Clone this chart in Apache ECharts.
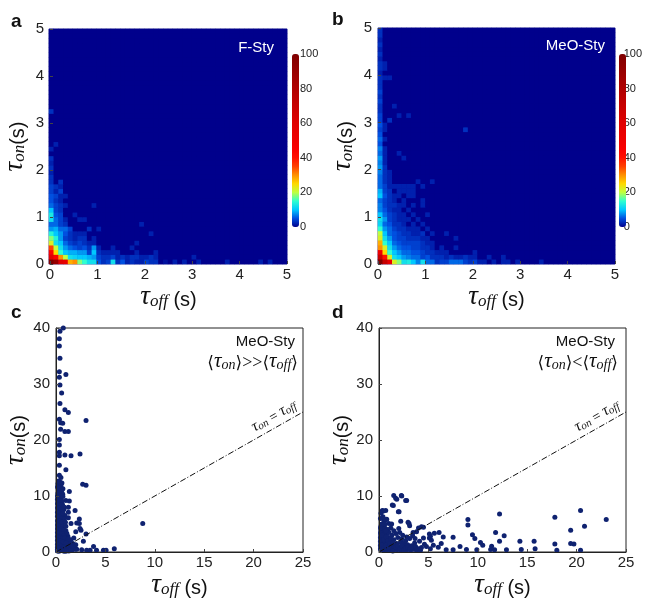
<!DOCTYPE html>
<html><head><meta charset="utf-8">
<script src="https://cdn.jsdelivr.net/npm/echarts@6/dist/echarts.min.js"></script>
<style>html,body{margin:0;padding:0;background:#fff}#c{width:645px;height:599px}</style>
</head><body><div id="c"></div>
<script>
// ---- Heatmap counts (rows = tau_on bins of 0.1 s from bottom, cols = tau_off bins of 0.1 s) ----
const heatA = [
 [100,90,60,55,28,30,18,15,12,12,5,3,4,12,3,5,2,3,2,2,4,3,3,0,1,0,2,0,2,0,0,2,0,0,0,0,0,2,0,0,0,0,0,0,2,0,2],
 [60,45,30,20,12,11,10,10,9,8,4,3,3,4,2,3,2,3,3,2,2,3,2,0,0,0,0,0,0,0,2],
 [45,25,15,10,9,9,8,8,4,10,3,2,2,2,2,0,0,0,2,0,0,0,2],
 [35,20,12,8,6,5,4,5,3,8,2,0,0,2,0,0,0,2],
 [22,12,10,6,4,3,4,3,2,2,0,0,0,0,0,0,0,0,2],
 [18,14,8,4,3,2,3,3,0,2],
 [14,10,8,5,3,2,2,2,0,0,0,0,0,0,0,0,0,0,0,0,0,2],
 [8,9,6,6,4,0,0,0,3,0,2],
 [6,6,4,3,0,0,0,0,0,0,0,0,0,0,0,0,0,0,0,2],
 [12,6,4,2,0,0,2,2],
 [13,5,4,0,0,2],
 [10,4,3,0,0,0,0,0,0,0],
 [6,4,3,2,0,0,0,0,0,2],
 [5,3,2],
 [5,4,2,2],
 [4,2,4],
 [4,3,2],
 [3,0,3],
 [3],
 [2],
 [3],
 [2],
 [3],
 [0],
 [2],
 [0,2],
 [],[],[],[],[],[],
 [3]
];
const heatB = [
 [100,70,55,22,18,12,13,10,7,12,6,6,3,4,4,6,6,6,4,3,4,2,2,0,2,0,2,2,0,2,0,0,0,0,2],
 [70,40,22,12,10,8,7,6,6,4,5,3,3,3,2,3,2,2,3,2,2,0,0,2,0,0,2],
 [50,25,15,10,8,6,6,5,5,4,3,3,2,2,2,0,0,0,0,0,2],
 [30,22,12,8,6,5,5,4,4,3,3,2,0,2,0,0,2],
 [28,15,10,6,5,4,4,4,4,3,2,2],
 [22,12,8,5,4,4,3,3,3,2,2,0,0,0,0,0,2],
 [20,10,6,5,4,3,3,2,2,3,0,2,0,0,2],
 [15,8,6,4,3,3,2,2,2,0,2],
 [11,6,5,3,3,2,0,2,0,2],
 [12,8,4,3,2,2,2,0,2],
 [10,6,4,3,2,2,0,2,0,0,2],
 [7,5,3,2,2,0,2],
 [7,4,3,3,2,2,0,2,0,2],
 [6,4,3,2,0,2,0,0,0,2],
 [10,5,3,2,2,0,2,2],
 [9,4,3,0,2,2,2,2],
 [6,4,2,2,2,2,2,2,0,2],
 [6,3,2,0,0,0,0,0,2,0,0,2],
 [6,3,2],
 [7,3,2],
 [8,3],
 [7,2],
 [8,2,0,0,0,2],
 [6,2,0,0,2],
 [7,2],
 [5],
 [6,2],
 [5],
 [4,2,0,0,0,0,0,0,0,0,0,0,0,0,0,0,0,0,3],
 [5,2],
 [4,0,3],
 [4,0,0,0,2,0,2],
 [3],
 [3,0,0,2],
 [4],
 [3],
 [4],
 [3],
 [3],
 [3,2,2],
 [2],
 [3,2],
 [3,2],
 [2],
 [3],
 [2],
 [3],
 [2],
 [3],
 [3]
];
// ---- Scatter points [tau_off, tau_on] ----
const scatC = [
 [0.74,40],[0.4,39.4],[0.34,38.1],[0.34,36.8],[0.4,34.6],[0.34,32.2],[0.34,31.2],[0.4,29.8],[1.0,31.7],[0.57,28.4],
 [0.4,26.5],[0.9,25.4],[1.25,24.9],[3.04,23.5],[0.34,23.7],[0.47,23.1],[0.68,23.0],[0.47,21.9],[0.9,21.5],[1.25,21.5],
 [0.34,20.1],[0.34,19.1],[0.34,17.8],[0.9,17.3],[0.34,17.2],[1.52,17.2],[2.43,17.5],[0.34,15.5],[0.34,13.7],[1.0,14.7],
 [0.5,13.3],[2.7,12.1],[3.04,11.9],[1.35,10.8],[0.68,10.3],[1.0,9.2],[1.35,9.1],[0.84,8.0],[1.25,8.0],[1.25,7.1],
 [1.93,7.4],[0.9,6.5],[1.25,6.1],[2.36,5.9],[2.1,5.2],[2.36,5.1],[1.52,5.1],[2.43,4.2],[2.53,3.9],[2.0,3.6],
 [3.04,3.2],[2.77,1.9],[3.8,1.0],[8.78,5.1],[3.1,0.3],[3.45,0.3],[4.1,0.3],[4.8,0.3],[5.07,0.3],[5.9,0.6],
 [2.1,0.5],[2.6,0.4],[1.4,0.6],[1.93,0.5],
 [0.2,12.2],[0.35,12.0],[0.5,11.8],[0.25,11.2],[0.45,11.0],[0.7,11.3],[0.2,10.5],[0.4,10.2],[0.6,10.6],[0.3,9.8],
 [0.5,9.5],[0.2,9.0],[0.4,8.8],[0.65,8.5],[0.25,8.2],[0.45,8.0],[0.2,7.5],[0.35,7.3],[0.55,7.0],[0.8,7.6],
 [0.2,6.8],[0.4,6.5],[0.6,6.2],[0.25,6.0],[0.45,5.7],[0.7,5.5],[0.2,5.2],[0.35,5.0],[0.55,4.8],[0.8,4.5],
 [0.2,4.4],[0.4,4.2],[0.6,4.0],[0.25,3.8],[0.45,3.6],[0.7,3.4],[0.9,3.2],[0.2,3.2],[0.35,3.0],[0.55,2.8],
 [0.75,2.6],[1.0,2.4],[0.2,2.5],[0.4,2.3],[0.6,2.1],[0.85,2.0],[1.1,1.8],[1.3,1.6],[0.2,1.8],[0.35,1.6],
 [0.5,1.4],[0.7,1.3],[0.9,1.2],[1.2,1.1],[1.5,1.0],[0.2,1.0],[0.35,0.9],[0.5,0.8],[0.65,0.7],[0.8,0.6],
 [1.0,0.5],[1.2,0.4],[0.15,0.5],[0.3,0.4],[0.45,0.3],[0.6,0.25],[0.75,0.2],[0.9,0.15],[1.6,0.3],[1.8,0.8],
 [1.0,3.8],[1.2,2.8],[1.5,2.2],[1.7,1.5],[0.15,0.2],[0.3,0.15],[2.0,1.3],[1.8,2.5],
 [0.15,11.6],[0.3,11.4],[0.55,11.1],[0.15,10.0],[0.3,10.6],[0.5,10.0],[0.7,9.9],[0.15,9.4],[0.35,9.2],[0.6,9.1],
 [0.15,8.6],[0.3,8.5],[0.5,8.4],[0.75,8.1],[0.15,7.9],[0.3,7.8],[0.5,7.6],[0.65,7.3],[0.15,7.1],[0.3,6.9],
 [0.5,6.7],[0.7,6.9],[0.15,6.4],[0.3,6.3],[0.55,6.0],[0.85,5.9],[0.15,5.6],[0.35,5.5],[0.6,5.3],[0.95,5.3],
 [0.15,4.8],[0.3,4.7],[0.7,4.6],[1.0,4.6],[0.15,4.1],[0.5,4.1],[0.8,3.9],[1.1,3.3],[0.15,3.5],[0.3,3.4],
 [0.6,3.3],[0.8,2.9],[0.15,2.8],[0.3,2.7],[0.45,2.6],[0.65,2.4],[0.9,2.5],[1.25,2.3],[0.15,2.1],[0.3,2.0],
 [0.5,1.9],[0.7,1.8],[1.0,1.6],[0.15,1.4],[0.3,1.3],[0.45,1.1],[0.6,1.0],[0.8,0.9],[1.1,0.8],[1.35,0.7],
 [0.15,0.8],[0.25,0.7],[0.4,0.6],[0.55,0.5],[0.7,0.45],[0.85,0.4],[1.05,0.2],[1.3,0.2],[1.5,0.5],[1.7,1.0],
 [0.4,12.5],[0.25,12.7],[0.6,12.3]
];
const scatD = [
 [1.49,10.1],[2.26,10.1],[1.69,9.6],[2.7,9.2],[1.35,8.4],[2.03,7.2],[0.34,7.4],[0.68,7.4],[0.74,5.8],[1.0,5.1],
 [2.2,5.5],[2.94,5.3],[3.04,5.1],[2.1,3.5],[3.45,3.5],[4.3,4.5],[4.5,4.4],[5.6,3.35],[6.08,3.5],[5.1,2.5],
 [7.5,2.65],[9.0,5.8],[9.0,4.8],[9.46,3.06],[9.7,2.4],[10.27,1.7],[12.2,6.8],[11.8,3.46],[12.67,2.9],[12.2,1.9],
 [14.26,1.9],[14.4,0.46],[15.7,1.9],[15.8,0.6],[17.8,6.2],[17.8,1.44],[18.0,0.3],[19.4,3.9],[19.4,1.5],[19.73,1.44],
 [20.4,7.4],[20.8,4.6],[20.4,0.3],[23.0,5.8],
 [8.85,0.46],[8.2,1.0],[7.5,0.4],[6.8,0.4],[6.0,0.87],[6.3,1.5],[5.5,1.2],[4.8,1.0],[9.9,0.4],[10.5,1.2],
 [11.3,0.46],[11.4,1.04],[11.7,0.4],[12.9,0.4],[5.1,3.2],[5.3,2.1],[4.5,2.5],[4.1,1.9],[5.2,2.8],[6.5,2.7],
 [3.65,2.4],[3.8,3.6],[4.0,4.3],[3.1,4.7],[1.96,7.2],[1.45,8.3],[1.8,9.4],[2.3,10.0],[2.8,9.2],[0.44,7.3],
 [0.78,5.85],[1.28,5.0],[0.27,3.9],
 [0.2,4.6],[0.3,4.2],[0.45,4.5],[0.6,4.3],[0.2,3.8],[0.35,3.5],[0.55,3.7],[0.2,3.0],[0.4,2.8],[0.6,3.1],
 [0.8,3.3],[0.2,2.3],[0.35,2.0],[0.55,2.4],[0.75,2.2],[0.95,2.6],[0.2,1.6],[0.4,1.4],[0.6,1.7],[0.85,1.5],
 [1.1,1.9],[0.2,1.0],[0.35,0.8],[0.55,1.1],[0.75,0.9],[1.0,1.2],[1.3,1.0],[1.6,1.3],[0.2,0.4],[0.4,0.3],
 [0.6,0.5],[0.8,0.35],[1.0,0.6],[1.2,0.3],[1.4,0.5],[1.6,0.7],[1.8,0.4],[2.0,0.8],[2.2,0.3],[2.4,0.6],
 [2.6,1.0],[2.8,0.4],[3.0,0.7],[3.2,0.3],[3.5,0.5],[3.8,0.3],[4.0,0.6],[1.8,1.5],[2.2,1.8],[2.5,1.5],
 [2.9,1.3],[3.3,1.1],[3.6,1.6],[1.5,2.2],[1.9,2.6],[2.3,2.3],[2.7,2.0],[3.1,2.4],[1.3,3.0],[1.7,3.3],
 [0.9,4.0],[1.2,4.3],[0.3,5.0],[0.5,5.6],[0.15,6.0],[4.6,1.4],[4.3,0.8],[5.2,0.6],[0.25,4.9],[0.5,3.2],
 [0.15,4.3],[0.15,3.4],[0.15,2.6],[0.15,1.9],[0.15,1.2],[0.15,0.6],[0.3,3.0],[0.45,2.2],[0.3,1.2],[0.5,0.7],
 [0.7,1.2],[0.7,2.7],[0.9,2.0],[1.0,0.9],[1.1,1.5],[1.2,2.4],[1.4,1.6],[1.4,0.2],[1.7,0.9],[1.9,1.1],
 [2.1,0.5],[2.3,1.1],[2.5,0.3],[2.7,0.7],[2.9,0.9],[3.1,0.5],[3.4,0.8],[3.7,1.0],[3.9,0.5],[4.2,0.3],
 [1.0,3.5],[0.7,3.8],[1.5,3.8],[2.0,4.2],[2.4,3.0],[2.8,2.7],[3.4,2.9],[0.4,6.3],[0.2,6.9],[0.6,5.0]
];
const diagLine = [0, 25];
const heatTicks = [0, 5, 1];      // min, max, interval
const cbTicks = [0, 100, 20];
const scatX = [0, 25, 5];
const scatY = [0, 40, 10];
const jetStops = ['#00008C','#0050E0','#00C8FF','#30FFD0','#C0FF40','#FFD800','#FF9000','#FF4000','#FF1000','#FA0000',
 '#F00000','#E80000','#E00000','#D40000','#C80000','#BC0000','#B00000','#A40000','#980000','#8C0000','#800000'];

const NB = 50;
const bins = Array.from({length: NB}, (_, i) => String(i));
function buildHeat(rows) {
  const out = [];
  for (let y = 0; y < NB; y++) for (let x = 0; x < NB; x++) {
    const r = rows[y] || [];
    out.push([x, y, r[x] || 0]);
  }
  return out;
}

const sans = 'Liberation Sans, Arial, sans-serif';
const serif = 'Liberation Serif, Times New Roman, serif';
const nameRich = {
  t: {fontFamily: serif, fontStyle: 'italic', fontSize: 27, color: '#111', verticalAlign: 'bottom', lineHeight: 26},
  s: {fontFamily: serif, fontStyle: 'italic', fontSize: 17, color: '#111', verticalAlign: 'bottom', lineHeight: 18, padding: [6, 0, 0, 0]},
  p: {fontFamily: sans, fontSize: 20, color: '#111', verticalAlign: 'bottom', lineHeight: 24}
};
const xName = '{t|τ}{s|off}{p| (s)}';
const yName = '{t|τ}{s|on}{p|(s)}';

const G = [
  {left: 49, top: 29, width: 238, height: 235},
  {left: 378, top: 28, width: 237, height: 236},
  {left: 56, top: 328, width: 247, height: 231},
  {left: 379, top: 328, width: 247, height: 231},
  {left: 292, top: 54, width: 7, height: 173},
  {left: 619, top: 54, width: 7, height: 173}
];
const heatBg = {show: true, borderColor: '#5a5aa8', borderWidth: 1, backgroundColor: '#00008C'};
const grids = [
  Object.assign({}, heatBg, G[0]),
  Object.assign({}, G[0]),
  Object.assign({}, heatBg, G[1]),
  Object.assign({}, G[1]),
  Object.assign({show: true, borderColor: '#222', borderWidth: 1}, G[2]),
  Object.assign({show: true, borderColor: '#222', borderWidth: 1}, G[3]),
  Object.assign({}, G[4]),
  Object.assign({}, G[5])
];
const tickLabel = {fontFamily: sans, fontSize: 15, color: '#222'};
function valAxis(gi, rng, dim, opts) {
  return Object.assign({
    type: 'value', gridIndex: gi, min: rng[0], max: rng[1], interval: rng[2], z: 5,
    axisLine: {show: true, lineStyle: {color: '#222', width: 1}},
    axisTick: {show: true, inside: true, length: 3, lineStyle: {color: '#444'}},
    splitLine: {show: false},
    axisLabel: Object.assign({margin: dim === 'x' ? 3 : 6}, tickLabel),
    nameLocation: 'middle', nameTextStyle: {rich: nameRich},
    name: dim === 'x' ? xName : yName, nameGap: dim === 'x' ? 20 : 22
  }, opts || {});
}
const catAxis = gi => ({type: 'category', gridIndex: gi, data: bins, show: false});
const cbAxisY = gi => ({type: 'value', gridIndex: gi, position: 'right', min: cbTicks[0], max: cbTicks[1], interval: cbTicks[2],
  axisLine: {show: false}, axisTick: {show: false}, splitLine: {show: false},
  axisLabel: {margin: 1, fontFamily: sans, fontSize: 11, color: '#222'}});
const cbAxisX = gi => ({type: 'value', gridIndex: gi, show: false});

const xAxes = [
  catAxis(0), valAxis(1, heatTicks, 'x', {axisLine: {show: false}}),
  catAxis(2), valAxis(3, heatTicks, 'x', {axisLine: {show: false}}),
  valAxis(4, scatX, 'x'), valAxis(5, scatX, 'x'),
  cbAxisX(6), cbAxisX(7)
];
const yAxes = [
  catAxis(0), valAxis(1, heatTicks, 'y', {axisLine: {show: false}}),
  catAxis(2), valAxis(3, heatTicks, 'y', {axisLine: {show: false}}),
  valAxis(4, scatY, 'y'), valAxis(5, scatY, 'y'),
  cbAxisY(6), cbAxisY(7)
];

const lblRich = {
  t: {fontFamily: serif, fontStyle: 'italic', fontSize: 16, color: '#111', verticalAlign: 'bottom', lineHeight: 15},
  s: {fontFamily: serif, fontStyle: 'italic', fontSize: 11, color: '#111', verticalAlign: 'bottom', lineHeight: 11, padding: [3, 0, 0, 0]},
  e: {fontFamily: serif, fontSize: 14, color: '#111', verticalAlign: 'bottom', lineHeight: 15}
};
function diagMark() {
  return {
    silent: true, symbol: 'none',
    lineStyle: {type: [6, 2, 1, 2], color: '#111', width: 1},
    label: {show: true, position: 'insideEndTop', distance: 3, formatter: '{t|τ}{s|on}{e| = }{t|τ}{s|off}', rich: lblRich},
    data: [[{coord: [diagLine[0], diagLine[0]]}, {coord: [diagLine[1], diagLine[1]]}]]
  };
}
const dotColor = '#0f2270';

const annRich = {
  b: {fontFamily: 'DejaVu Serif, serif', fontSize: 17, color: '#111', verticalAlign: 'bottom', lineHeight: 20},
  t: {fontFamily: serif, fontStyle: 'italic', fontSize: 21, color: '#111', verticalAlign: 'bottom', lineHeight: 19},
  s: {fontFamily: serif, fontStyle: 'italic', fontSize: 14, color: '#111', verticalAlign: 'bottom', lineHeight: 14, padding: [5, 0, 0, 0]},
  o: {fontFamily: serif, fontSize: 18, color: '#111', verticalAlign: 'bottom', lineHeight: 19}
};
const letter = (txt, l, t) => ({text: txt, left: l, top: t, padding: 0,
  textStyle: {fontFamily: sans, fontSize: 19, fontWeight: 'bold', color: '#111'}});
const tag = (txt, r, t, col) => ({text: txt, right: r, top: t, padding: 0,
  textStyle: {fontFamily: sans, fontSize: 15, fontWeight: 'normal', color: col}});
const tag2 = (txt, r, t) => ({text: txt, right: r, top: t, padding: 0,
  textStyle: {rich: annRich, fontWeight: 'normal'}});

const option = {
  animation: false,
  backgroundColor: '#fff',
  title: [
    letter('a', 11, 12), letter('b', 332, 10), letter('c', 11, 303), letter('d', 332, 303),
    tag('F-Sty', 371, 40, '#fff'), tag('MeO-Sty', 40, 38, '#fff'),
    tag('MeO-Sty', 350, 334, '#111'), tag('MeO-Sty', 30, 334, '#111'),
    tag2('{b|⟨}{t|τ}{s|on}{b|⟩}{o|>>}{b|⟨}{t|τ}{s|off}{b|⟩}', 347, 352),
    tag2('{b|⟨}{t|τ}{s|on}{b|⟩}{o|<}{b|⟨}{t|τ}{s|off}{b|⟩}', 27, 352)
  ],
  grid: grids,
  xAxis: xAxes,
  yAxis: yAxes,
  visualMap: [
    {type: 'continuous', seriesIndex: 0, min: 0, max: 100, left: G[4].left, top: G[4].top, itemWidth: 7, itemHeight: 173,
     padding: 0, calculable: false, text: null, showLabel: false, inRange: {color: jetStops}, borderWidth: 0},
    {type: 'continuous', seriesIndex: 1, min: 0, max: 100, left: G[5].left, top: G[5].top, itemWidth: 7, itemHeight: 173,
     padding: 0, calculable: false, text: null, showLabel: false, inRange: {color: jetStops}, borderWidth: 0}
  ],
  series: [
    {type: 'heatmap', xAxisIndex: 0, yAxisIndex: 0, data: buildHeat(heatA), progressive: 0, emphasis: {disabled: true}},
    {type: 'heatmap', xAxisIndex: 2, yAxisIndex: 2, data: buildHeat(heatB), progressive: 0, emphasis: {disabled: true}},
    {type: 'scatter', xAxisIndex: 4, yAxisIndex: 4, data: scatC, symbolSize: 5, itemStyle: {color: dotColor, opacity: 1}, markLine: diagMark(), z: 3},
    {type: 'scatter', xAxisIndex: 5, yAxisIndex: 5, data: scatD, symbolSize: 5, itemStyle: {color: dotColor, opacity: 1}, markLine: diagMark(), z: 3}
  ]
};
const chart = echarts.init(document.getElementById('c'), null, {renderer: 'canvas'});
chart.setOption(option);
</script></body></html>
